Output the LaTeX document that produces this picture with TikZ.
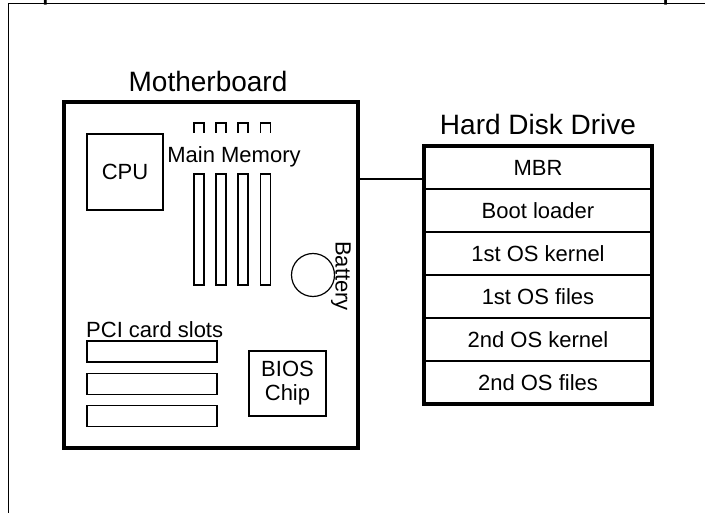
\documentclass[tikz,border=0pt]{standalone}
\usepackage{fontspec}
\setmainfont{Liberation Sans}
\usetikzlibrary{positioning}

\begin{document}
\begin{tikzpicture}[
    x=1pt, y=-1pt,
    board/.style={rectangle, draw, line width=4pt, inner sep=0pt},
    part/.style={rectangle, draw, line width=1.2pt, inner sep=0pt},
    heading/.style={font=\fontsize{28}{32}\selectfont, inner sep=0pt},
    txt/.style={font=\fontsize{22}{26}\selectfont},
    row/.style={rectangle, draw, line width=1.2pt, minimum width=228pt, minimum height=43pt, inner sep=0pt, outer sep=0pt, font=\fontsize{22}{26}\selectfont},
    node distance=0pt
]
\useasboundingbox (0,0) rectangle (705,513);
\clip (0,0) rectangle (705,513);

% page frame and cut title
\node[anchor=base, font=\fontsize{32}{36}\selectfont, inner sep=0pt] (title) at (361,-1) {Simplified View of an Intel-based Personal Computer};
\draw[line width=1pt] (8,520) |- (710,4);

% motherboard
\node[board, minimum width=294pt, minimum height=346pt] (mb) at (211,275) {};
\node[heading, above=8pt of mb, xshift=-3pt] (mblabel) {Motherboard};

\node[part, txt, minimum size=76pt] (cpu) at (125,172) {CPU};

% main memory slots
\node[txt, anchor=base, inner sep=0pt] (memlabel) at (234,163) {Main Memory};
\foreach \i/\x in {1/199,2/221,3/243,4/265.5} {
    \node[part, minimum width=10pt, minimum height=111pt] (mem\i) at (\x,229.5) {};
    \draw[line width=1.2pt] (\x-5,133) -- ++(0,-10) -- ++(10,0) -- ++(0,10);
}

% battery
\node[part, circle, minimum size=43pt] (battery) at (313,275) {};
\node[txt, rotate=-90, inner sep=0pt] (batlabel) at (341,276) {Battery};

% PCI card slots
\node[txt, anchor=base west, inner sep=0pt] (pcilabel) at (86,338) {PCI card slots};
\node[part, minimum width=130pt, minimum height=21pt] (pci1) at (152,351.5) {};
\node[part, minimum width=130pt, minimum height=21pt, below=10pt of pci1] (pci2) {};
\node[part, minimum width=130pt, minimum height=21pt, below=10pt of pci2] (pci3) {};

% BIOS
\node[part, minimum width=77pt, minimum height=65pt, font=\fontsize{22}{24}\selectfont, align=center] (bios) at (287.5,383.5) {BIOS\\Chip};

% hard disk drive
\node[row, anchor=north] (mbr) at (538,146) {MBR};
\node[row, below=of mbr] (boot) {Boot loader};
\node[row, below=of boot] (kern1) {1st OS kernel};
\node[row, below=of kern1] (files1) {1st OS files};
\node[row, below=of files1] (kern2) {2nd OS kernel};
\node[row, below=of kern2] (files2) {2nd OS files};
\node[board, minimum width=228pt, minimum height=258pt] (hdd) at (538,275) {};
\node[heading, above=9pt of hdd] (hddlabel) {Hard Disk Drive};

% cable
\coordinate (link) at (391,179);
\draw[line width=1.2pt] (mb.east |- link) -- (hdd.west |- link);

\end{tikzpicture}
\end{document}
